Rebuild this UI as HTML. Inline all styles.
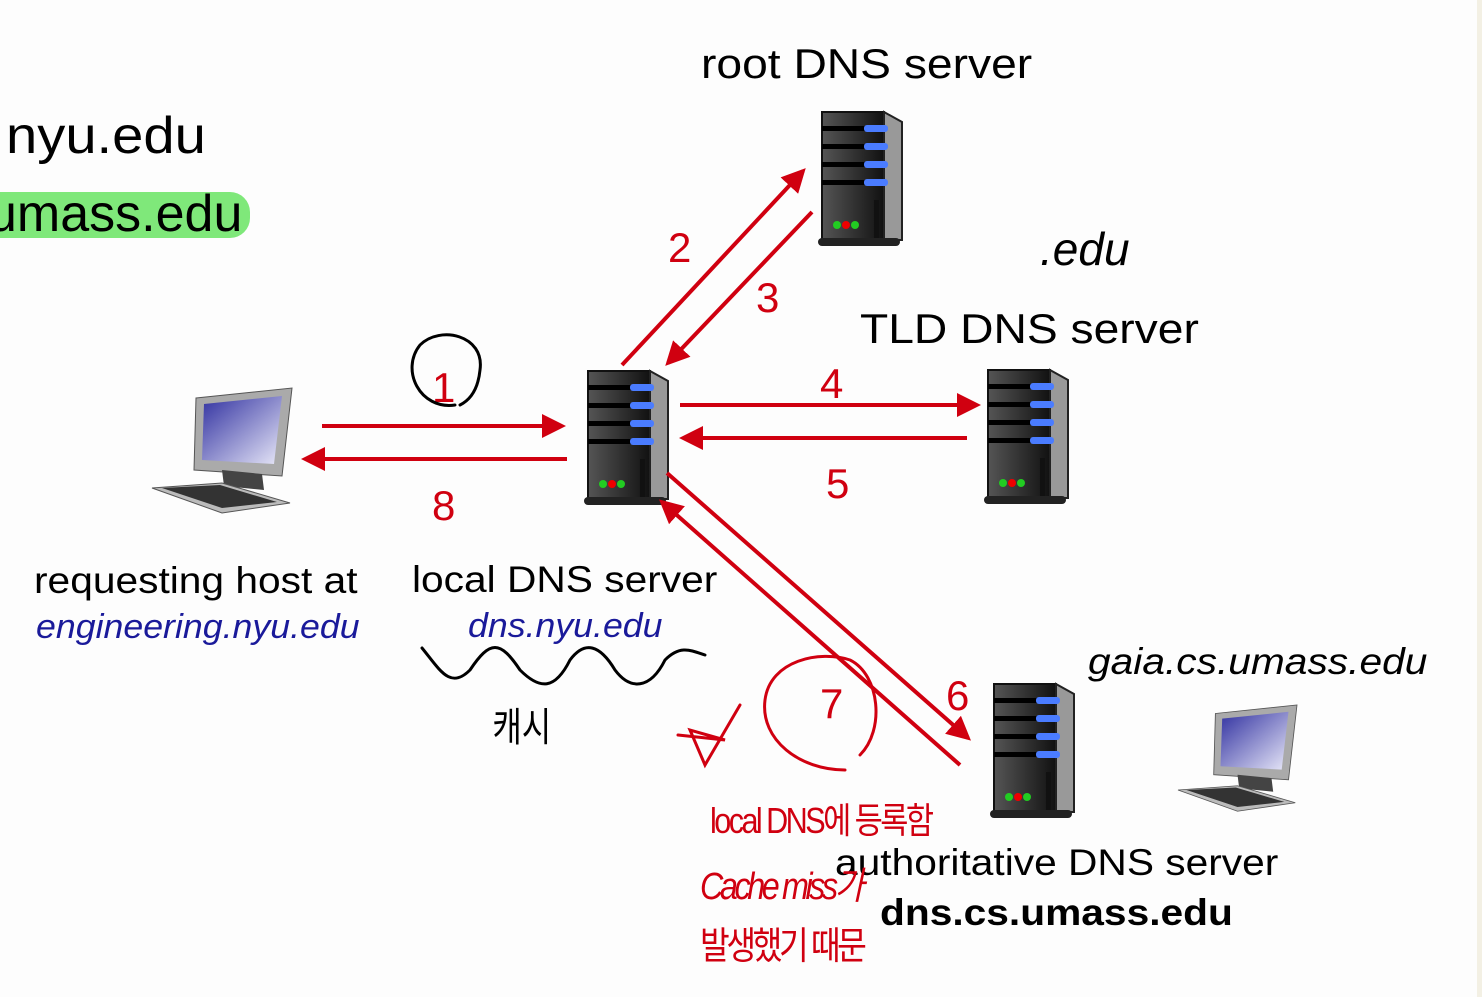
<!DOCTYPE html>
<html><head><meta charset="utf-8"><style>
body{margin:0;width:1482px;height:997px;background:#fdfdfd;position:relative;overflow:hidden;font-family:"Liberation Sans","Noto Sans CJK KR",sans-serif}
.t{position:absolute;white-space:nowrap;color:#000}
.w{transform:scaleX(1.1);transform-origin:left top}
.r{color:#d00010}
.i{font-style:italic;color:#1a1a9a}
</style></head><body>
<div style="position:absolute;left:1477px;top:0;width:5px;height:997px;background:#f3f0e4"></div>
<div class="t w" style="left:6px;top:106px;font-size:52px;transform:scaleX(1.08)">nyu.edu</div>
<div style="position:absolute;left:0;top:192px;width:250px;height:46px;background:#7fe87a;border-radius:0 20px 20px 0"></div>
<div class="t" style="left:-12px;top:184px;font-size:52px">umass.edu</div>
<div class="t w" style="left:701px;top:40px;font-size:42px">root DNS server</div>
<div class="t w" style="left:860px;top:305px;font-size:42px">TLD DNS server</div>
<div class="t w" style="left:34px;top:560px;font-size:37px">requesting host at</div>
<div class="t i w" style="left:36px;top:608px;font-size:34px;transform:scaleX(1.05)">engineering.nyu.edu</div>
<div class="t w" style="left:412px;top:559px;font-size:37px">local DNS server</div>
<div class="t i w" style="left:468px;top:607px;font-size:34px;transform:scaleX(1.05)">dns.nyu.edu</div>
<div class="t i w" style="left:1088px;top:641px;font-size:37px;color:#000">gaia.cs.umass.edu</div>
<div class="t w" style="left:835px;top:842px;font-size:37px">authoritative DNS server</div>
<div class="t w" style="left:880px;top:892px;font-size:37px;font-weight:bold">dns.cs.umass.edu</div>
<div class="t r" style="left:668px;top:224px;font-size:42px">2</div>
<div class="t r" style="left:756px;top:274px;font-size:42px">3</div>
<div class="t r" style="left:820px;top:360px;font-size:42px">4</div>
<div class="t r" style="left:826px;top:460px;font-size:42px">5</div>
<div class="t r" style="left:432px;top:364px;font-size:42px">1</div>
<div class="t r" style="left:432px;top:482px;font-size:42px">8</div>
<div class="t r" style="left:946px;top:672px;font-size:42px">6</div>
<div class="t r" style="left:820px;top:680px;font-size:42px">7</div>
<div class="t" style="left:1040px;top:222px;font-size:46px;font-style:italic">.edu</div>
<div class="t" style="left:485px;top:695px;font-size:40px;transform:scaleX(.8)">캐시</div>
<div class="t r" style="left:710px;top:792px;font-size:36px;letter-spacing:-3px;transform:scaleX(.85);transform-origin:left">local DNS에 등록함</div>
<div class="t r" style="left:700px;top:855px;font-size:38px;letter-spacing:-4px;font-style:italic;transform:scaleX(.85);transform-origin:left">Cache miss가</div>
<div class="t r" style="left:700px;top:915px;font-size:38px;letter-spacing:-4px;transform:scaleX(.85);transform-origin:left">발생했기 때문</div>
<svg width="1482" height="997" style="position:absolute;left:0;top:0">
<defs>
<marker id="a" markerWidth="6" markerHeight="6" refX="5" refY="3" orient="auto" markerUnits="strokeWidth"><path d="M0,0L6,3L0,6z" fill="#d00010"/></marker>
<linearGradient id="g" x1="0" x2="1"><stop offset="0" stop-color="#555"/><stop offset=".5" stop-color="#333"/><stop offset="1" stop-color="#111"/></linearGradient>
<linearGradient id="sc" x1="0" y1="0" x2="1" y2="1"><stop offset="0" stop-color="#3030a0"/><stop offset="1" stop-color="#e8e8f8"/></linearGradient>
<g id="s">
<rect x="0" y="0" width="62" height="128" fill="url(#g)" stroke="#111" stroke-width="2"/>
<path d="M62,0 L80,10 L80,128 L62,128z" fill="#999" stroke="#222" stroke-width="2"/>
<rect x="0" y="14" width="62" height="5" fill="#000"/><rect x="42" y="13" width="24" height="7" rx="3" fill="#4a7cff"/>
<rect x="0" y="32" width="62" height="5" fill="#000"/><rect x="42" y="31" width="24" height="7" rx="3" fill="#4a7cff"/>
<rect x="0" y="50" width="62" height="5" fill="#000"/><rect x="42" y="49" width="24" height="7" rx="3" fill="#4a7cff"/>
<rect x="0" y="68" width="62" height="5" fill="#000"/><rect x="42" y="67" width="24" height="7" rx="3" fill="#4a7cff"/>
<rect x="52" y="88" width="5" height="38" fill="#111"/>
<circle cx="15" cy="113" r="4" fill="#2c2"/><circle cx="24" cy="113" r="4" fill="#e00"/><circle cx="33" cy="113" r="4" fill="#2c2"/>
<rect x="-4" y="126" width="82" height="8" rx="4" fill="#222"/>
</g>
<g id="c">
<path d="M44,10 L140,0 L130,88 L42,82z" fill="#aaa" stroke="#555"/>
<path d="M52,16 L130,8 L122,76 L50,72z" fill="url(#sc)"/>
<path d="M70,82 L110,86 L112,102 L72,98z" fill="#444"/>
<path d="M0,100 L70,95 L138,115 L70,125z" fill="#bbb" stroke="#555"/>
<path d="M10,100 L68,97 L125,114 L70,120z" fill="#333"/>
</g>
</defs>
<use href="#s" x="822" y="112"/>
<use href="#s" x="988" y="370"/>
<use href="#s" x="588" y="371"/>
<use href="#s" x="994" y="684"/>
<use href="#c" x="152" y="388"/>
<use href="#c" x="1178" y="705" transform="translate(1178,705) scale(.85) translate(-1178,-705)"/>
<g stroke="#d00010" stroke-width="4" fill="none" marker-end="url(#a)">
<line x1="622" y1="365" x2="803" y2="171"/>
<line x1="812" y1="212" x2="668" y2="363"/>
<line x1="680" y1="405" x2="977" y2="405"/>
<line x1="967" y1="438" x2="683" y2="438"/>
<line x1="322" y1="426" x2="562" y2="426"/>
<line x1="567" y1="459" x2="305" y2="459"/>
<line x1="667" y1="473" x2="968" y2="738"/>
<line x1="960" y1="765" x2="662" y2="502"/>
</g>
<g fill="none" stroke-linecap="round">
<path d="M455,405 C420,410 400,370 420,345 C440,325 485,335 480,370 C478,390 470,400 460,405" stroke="#000" stroke-width="3"/>
<path d="M422,648 C440,670 450,690 470,670 C490,640 500,640 520,670 C540,690 555,690 570,660 C585,640 600,645 615,670 C630,690 650,690 665,660 C680,645 690,650 705,655" stroke="#000" stroke-width="3"/>
<path d="M845,770 C800,770 760,740 765,700 C770,660 820,650 850,660 C880,675 885,730 860,755" stroke="#d00010" stroke-width="3"/>
<path d="M740,705 L705,765 L690,730 L725,740 L678,735" stroke="#d00010" stroke-width="3"/>
</g>
</svg>
</body></html>
